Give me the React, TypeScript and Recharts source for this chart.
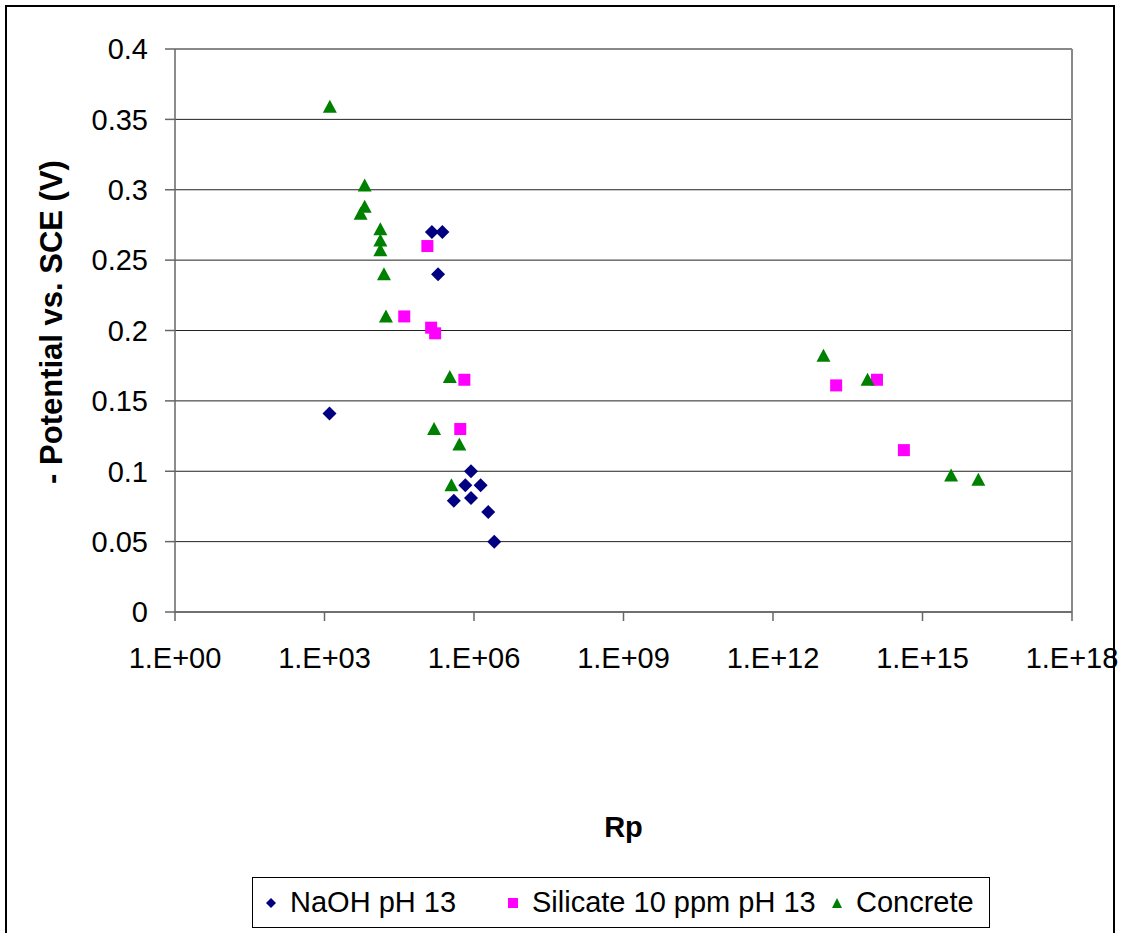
import React from 'react';
import {
  ScatterChart,
  Scatter,
  XAxis,
  YAxis,
  CartesianGrid,
  ReferenceLine,
} from 'recharts';

// ---- data ----
const naohRp = [1.26e3, 1.43e5, 2.32e5, 1.9e5, 8.7e5, 6.7e5, 1.36e6, 8.7e5, 3.93e5, 1.93e6, 2.55e6];
const naohE = [0.141, 0.27, 0.27, 0.24, 0.1, 0.09, 0.09, 0.081, 0.079, 0.071, 0.05];

const silicateRp = [1.16e5, 3.98e4, 1.38e5, 1.66e5, 6.4e5, 5.3e5, 1.85e13, 1.22e14, 4.23e14];
const silicateE = [0.26, 0.21, 0.202, 0.198, 0.165, 0.13, 0.161, 0.165, 0.115];

const concreteRp = [
  1.28e3, 6.4e3, 6.4e3, 5.3e3, 1.32e4, 1.32e4, 1.32e4, 1.56e4, 1.71e4, 3.27e5, 1.58e5, 5.08e5,
  3.52e5, 1.03e13, 7.9e13, 3.75e15, 1.32e16,
];
const concreteE = [
  0.359, 0.303, 0.288, 0.283, 0.272, 0.264, 0.257, 0.24, 0.21, 0.167, 0.13, 0.119, 0.09, 0.182,
  0.165, 0.097, 0.094,
];

const xTicks = [1, 1e3, 1e6, 1e9, 1e12, 1e15, 1e18];
const yTicks = [0, 0.05, 0.1, 0.15, 0.2, 0.25, 0.3, 0.35, 0.4];

const seriesNames = ['NaOH pH 13', 'Silicate 10 ppm pH 13', 'Concrete'];

const toPoints = (xs: number[], ys: number[]) => xs.map((x, i) => ({ x, y: ys[i] }));

const naohData = toPoints(naohRp, naohE);
const silicateData = toPoints(silicateRp, silicateE);
const concreteData = toPoints(concreteRp, concreteE);

const FONT = '"Liberation Sans", Arial, sans-serif';

const Diamond = (props: any) => {
  const { cx, cy } = props;
  const r = 7;
  return (
    <polygon
      points={`${cx},${cy - r} ${cx + r},${cy} ${cx},${cy + r} ${cx - r},${cy}`}
      fill="#000080"
    />
  );
};

const Square = (props: any) => {
  const { cx, cy } = props;
  return <rect x={cx - 6} y={cy - 6} width={12} height={12} fill="#FF00FF" />;
};

const Triangle = (props: any) => {
  const { cx, cy } = props;
  return (
    <polygon
      points={`${cx},${cy - 7} ${cx + 7},${cy + 6} ${cx - 7},${cy + 6}`}
      fill="#008000"
    />
  );
};

const xFmt = (v: number) => {
  const e = Math.round(Math.log10(v));
  return '1.E+' + String(e).padStart(2, '0');
};
const yFmt = (v: number) => String(+v.toFixed(2));

const YLabel = (props: any) => {
  const cx = 51;
  const cy = 322;
  return (
    <text
      x={cx}
      y={cy}
      transform={`rotate(-90, ${cx}, ${cy})`}
      textAnchor="middle"
      dominantBaseline="central"
      fontFamily={FONT}
      fontWeight="bold"
      fontSize={31}
      fill="#000"
    >
      - Potential vs. SCE (V)
    </text>
  );
};

const legendItems = [
  { name: seriesNames[0], center: 271, marker: 'diamond' },
  { name: seriesNames[1], center: 513, marker: 'square' },
  { name: seriesNames[2], center: 837, marker: 'triangle' },
];

const LegendMarker = ({ kind }: { kind: string }) => (
  <svg width={14} height={14} style={{ display: 'block' }}>
    {kind === 'diamond' && <polygon points="7,2 12,7 7,12 2,7" fill="#000080" />}
    {kind === 'square' && <rect x={2} y={2} width={10} height={10} fill="#FF00FF" />}
    {kind === 'triangle' && <polygon points="7,2 12,12 2,12" fill="#008000" />}
  </svg>
);

export default function App() {
  return (
    <div
      style={{
        position: 'absolute',
        left: 0,
        top: 0,
        width: 1127,
        height: 933,
        overflow: 'hidden',
        background: '#fff',
        fontFamily: FONT,
      }}
    >
      <div
        style={{
          position: 'absolute',
          left: 5,
          top: 5,
          width: 1106,
          height: 960,
          border: '2px solid #000',
        }}
      />
      <div style={{ position: 'absolute', left: 0, top: 0 }}>
        <ScatterChart
          width={1127}
          height={933}
          margin={{ top: 49, right: 55, bottom: 91, left: 0 }}
        >
          <CartesianGrid horizontal vertical={false} stroke="#222" strokeWidth={1} />
          <ReferenceLine y={0.4} stroke="#888" strokeWidth={2} ifOverflow="visible" />
          <ReferenceLine x={1e18} stroke="#888" strokeWidth={2} ifOverflow="visible" />
          <XAxis
            dataKey="x"
            type="number"
            scale="log"
            domain={[1, 1e18]}
            ticks={xTicks}
            interval={0}
            allowDataOverflow
            tickFormatter={xFmt}
            height={230}
            tickSize={9}
            tickMargin={26}
            stroke="#666"
            strokeWidth={1.5}
            tick={{ fill: '#000', fontSize: 29, fontFamily: FONT }}
            label={{
              value: 'Rp',
              position: 'insideTop',
              offset: 204,
              fontSize: 29,
              fontWeight: 'bold',
              fontFamily: FONT,
              fill: '#000',
            }}
          />
          <YAxis
            dataKey="y"
            type="number"
            domain={[0, 0.4]}
            ticks={yTicks}
            interval={0}
            tickFormatter={yFmt}
            width={175}
            tickSize={10}
            tickMargin={17}
            stroke="#666"
            strokeWidth={1.5}
            tick={{ fill: '#000', fontSize: 29, fontFamily: FONT }}
            label={<YLabel />}
          />
          <Scatter
            name={seriesNames[0]}
            data={naohData}
            shape={<Diamond />}
            isAnimationActive={false}
          />
          <Scatter
            name={seriesNames[1]}
            data={silicateData}
            shape={<Square />}
            isAnimationActive={false}
          />
          <Scatter
            name={seriesNames[2]}
            data={concreteData}
            shape={<Triangle />}
            isAnimationActive={false}
          />
        </ScatterChart>
      </div>
      <div
        style={{
          position: 'absolute',
          left: 252,
          top: 877,
          width: 736,
          height: 49,
          border: '1px solid #000',
          background: '#fff',
        }}
      >
        {legendItems.map((it) => (
          <div
            key={it.name}
            style={{
              position: 'absolute',
              left: it.center - 253 - 7,
              top: 0,
              height: 49,
              display: 'flex',
              alignItems: 'center',
              whiteSpace: 'nowrap',
            }}
          >
            <LegendMarker kind={it.marker} />
            <span style={{ marginLeft: 12, fontSize: 29, color: '#000', lineHeight: '49px' }}>
              {it.name}
            </span>
          </div>
        ))}
      </div>
    </div>
  );
}
